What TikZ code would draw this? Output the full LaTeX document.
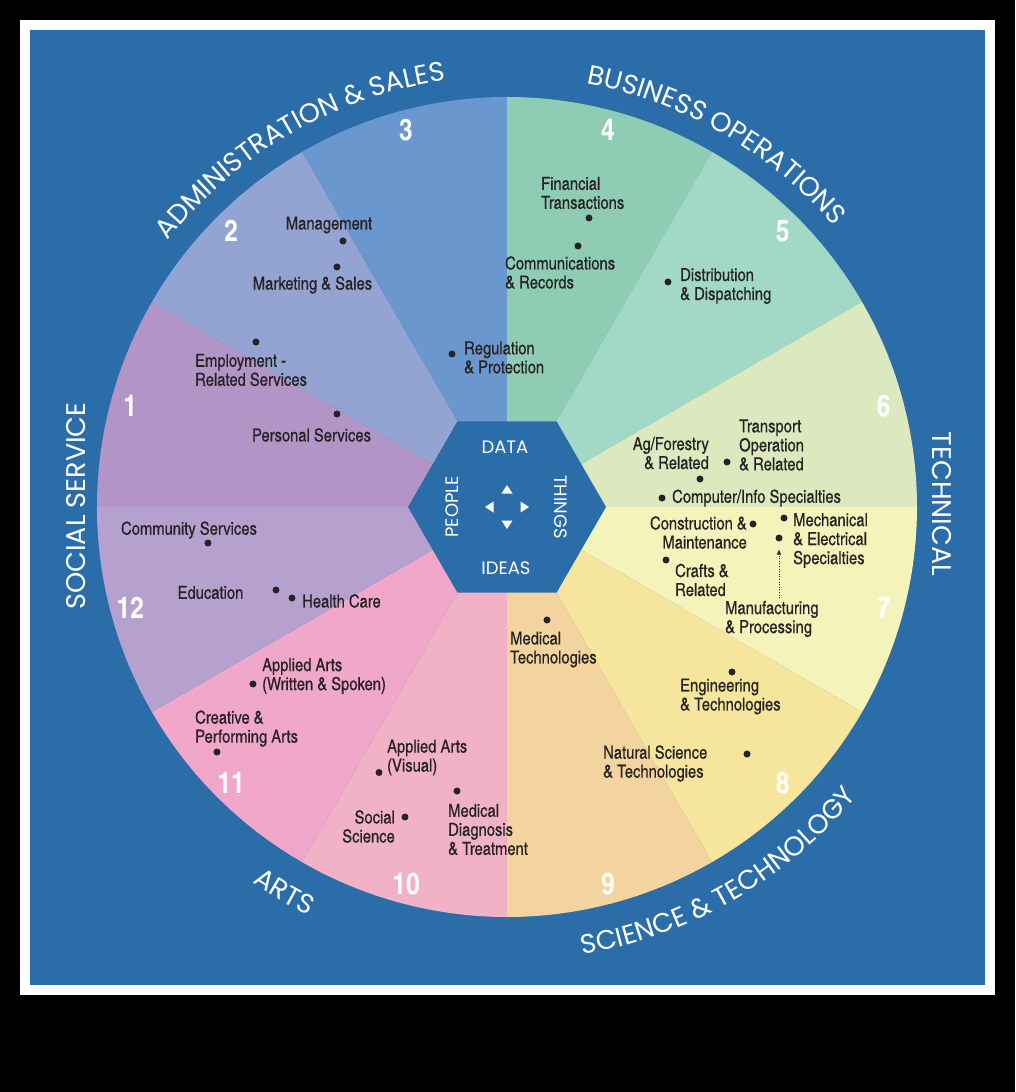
\documentclass[tikz,border=0pt]{standalone}
\usepackage{fontspec}
\usepackage{xcolor}
\usetikzlibrary{shapes.geometric,decorations.text,arrows.meta}

\newfontfamily\itemfont{TeX Gyre Heros Cn}[FakeBold=0.5]
\newfontfamily\ringfont{Poppins}
\newfontfamily\numfont{TeX Gyre Heros Cn}

\definecolor{bgblue}{HTML}{2A6DA9}
\definecolor{ink}{HTML}{262324}
\definecolor{secA}{HTML}{B394C6}
\definecolor{secB}{HTML}{93A4D2}
\definecolor{secC}{HTML}{6A97CD}
\definecolor{secD}{HTML}{8FCCB4}
\definecolor{secE}{HTML}{A2D8C6}
\definecolor{secF}{HTML}{DCE8BE}
\definecolor{secG}{HTML}{F3F3BA}
\definecolor{secH}{HTML}{F6E59C}
\definecolor{secI}{HTML}{F4D49E}
\definecolor{secJ}{HTML}{F2B2C6}
\definecolor{secK}{HTML}{F0A7CA}
\definecolor{secL}{HTML}{B6A1CE}

\begin{document}
\begin{tikzpicture}[
    x=1pt, y=1pt,
    item/.style={font=\itemfont\fontsize{18}{19}\selectfont, text=ink, inner sep=0, align=left},
    dot/.style={circle, fill=ink, inner sep=0, minimum size=7},
    num/.style={font=\numfont\bfseries\fontsize{30}{30}\selectfont, text=white},
    ring/.style={font=\ringfont\fontsize{27}{27}\selectfont, text=white, inner sep=0},
    hexword/.style={font=\ringfont\fontsize{18}{18}\selectfont, text=white, inner sep=0},
    hexa/.style={regular polygon, regular polygon sides=6, minimum size=198, inner sep=0, fill=bgblue}
]
    % frame
    \fill[black] (-507,-585) rectangle (508,507);
    \fill[white] (-487,-488) rectangle (488,487);
    \fill[bgblue] (-477,-478) rectangle (478,477);

    % twelve sectors with their numbers
    \foreach \k/\col in {1/secA,2/secB,3/secC,4/secD,5/secE,6/secF,7/secG,8/secH,9/secI,10/secJ,11/secK,12/secL} {
        \fill[\col] (0,0) -- (180-30*\k:410) arc[start angle=180-30*\k, end angle=210-30*\k, radius=410] -- cycle;
        \node[num] (n\k) at (195-30*\k:390) {\k};
    }

    % centre hexagon
    \node[hexa] (hex) at (0,0) {};
    \node[hexword] (data) at (-2,59.5) {DATA};
    \node[hexword] (ideas) at (-1,-61) {IDEAS};
    \node[hexword, rotate=90] (people) at (-55,0) {PEOPLE};
    \node[hexword, rotate=-90] (things) at (54,0) {THINGS};
    \foreach \a in {0,90,180,270}
        \fill[white, rotate=\a] (13.5,-5.5) -- (13.5,5.5) -- (22,0) -- cycle;

    % ring titles
    \path[decorate, decoration={text along path, text align=center, text color=white,
        text={|\ringfont\fontsize{27}{27}\selectfont|ADMINISTRATION {\&} SALES}}]
        (150:431) arc[start angle=150, end angle=90, radius=431];
    \path[decorate, decoration={text along path, text align=center, text color=white,
        text={|\ringfont\fontsize{27}{27}\selectfont|BUSINESS OPERATIONS}}]
        (90:431) arc[start angle=90, end angle=30, radius=431];
    \path[decorate, decoration={text along path, text align=center, text color=white,
        text={|\ringfont\fontsize{27}{27}\selectfont|SCIENCE {\&} TECHNOLOGY}}]
        (-90:454) arc[start angle=-90, end angle=-30, radius=454];
    \path[decorate, decoration={text along path, text align=center, text color=white,
        text={|\ringfont\fontsize{27}{27}\selectfont|ARTS}}]
        (-150:454) arc[start angle=-150, end angle=-90, radius=454];
    \node[ring, rotate=90] (social) at (-431,1) {SOCIAL SERVICE};
    \node[ring, rotate=-90] (technical) at (434.5,3) {TECHNICAL};

    % sector 2
    \node[item] (t-mgmt) at (-178,282) {Management};
    \node[dot] (d-mgmt) at (-164,266) {};
    \node[dot] (d-mkt) at (-170,240) {};
    \node[item] (t-mkt) at (-194.5,222) {Marketing \& Sales};
    % sector 1
    \node[dot] (d-emp) at (-251,165) {};
    \node[item, anchor=west] (t-emp) at (-312,137) {Employment -\\Related Services};
    \node[dot] (d-pers) at (-170,93) {};
    \node[item] (t-pers) at (-195.5,72) {Personal Services};
    % sector 3
    \node[dot] (d-reg) at (-55,153) {};
    \node[item, anchor=west] (t-reg) at (-43,149.5) {Regulation\\\& Protection};
    % sector 4
    \node[item, anchor=west] (t-fin) at (34,314) {Financial\\Transactions};
    \node[dot] (d-fin) at (82,289) {};
    \node[dot] (d-comm) at (71,261) {};
    \node[item, anchor=west] (t-comm) at (-2,234.5) {Communications\\\& Records};
    % sector 5
    \node[dot] (d-dist) at (161,225) {};
    \node[item, anchor=west] (t-dist) at (173,221) {Distribution\\\& Dispatching};
    % sector 6
    \node[item, anchor=east, align=right] (t-ag) at (202,54) {Ag/Forestry\\\& Related};
    \node[dot] (d-ag) at (193,28) {};
    \node[dot] (d-trans) at (220,45) {};
    \node[item, anchor=west] (t-trans) at (232,62) {Transport\\Operation\\\& Related};
    \node[dot] (d-comp) at (155,9) {};
    \node[item, anchor=west] (t-comp) at (165,9) {Computer/Info Specialties};
    % sector 7
    \node[item, anchor=east, align=right] (t-cons) at (240,-25.5) {Construction \&\\Maintenance};
    \node[dot] (d-cons) at (246,-17) {};
    \node[dot] (d-mech) at (277,-11) {};
    \node[item, anchor=west] (t-mech) at (286,-33.5) {Mechanical\\\& Electrical\\Specialties};
    \node[dot] (d-manu) at (272,-31) {};
    \node[dot] (d-crafts) at (159,-53) {};
    \node[item, anchor=west] (t-crafts) at (168,-73) {Crafts \&\\Related};
    \node[item, anchor=west] (t-manu) at (218,-112) {Manufacturing\\\& Processing};
    \draw[ink, dotted, semithick, -{Triangle[length=5, width=4]}, shorten <=3, shorten >=8]
        (t-manu.north -| d-manu) -- (d-manu);
    % sector 9
    \node[dot] (d-medtech) at (40,-113) {};
    \node[item, anchor=west] (t-medtech) at (3,-142.5) {Medical\\Technologies};
    % sector 8
    \node[dot] (d-eng) at (225,-165) {};
    \node[item, anchor=west] (t-eng) at (173,-189.5) {Engineering\\\& Technologies};
    \node[item, anchor=west] (t-nat) at (96,-256.5) {Natural Science\\\& Technologies};
    \node[dot] (d-nat) at (240,-247) {};
    % sector 12
    \node[item] (t-commserv) at (-318,-23) {Community Services};
    \node[dot] (d-commserv) at (-299,-36) {};
    \node[item] (t-edu) at (-296.5,-85.5) {Education};
    \node[dot] (d-edu) at (-231,-83) {};
    \node[dot] (d-health) at (-215,-91) {};
    \node[item, anchor=west] (t-health) at (-205,-94) {Health Care};
    % sector 11
    \node[item, anchor=west] (t-appw) at (-245,-169) {Applied Arts\\(Written \& Spoken)};
    \node[dot] (d-appw) at (-254,-177) {};
    \node[item, anchor=west] (t-creat) at (-312,-221.5) {Creative \&\\Performing Arts};
    \node[dot] (d-creat) at (-290,-245) {};
    % sector 10
    \node[item, anchor=west] (t-appv) at (-120,-250.5) {Applied Arts\\(Visual)};
    \node[dot] (d-appv) at (-128,-265.5) {};
    \node[item, anchor=east, align=right] (t-social) at (-112,-319.5) {Social\\Science};
    \node[dot] (d-social) at (-102,-310) {};
    \node[dot] (d-meddiag) at (-50,-284) {};
    \node[item, anchor=west] (t-meddiag) at (-59,-322.5) {Medical\\Diagnosis\\\& Treatment};
\end{tikzpicture}
\end{document}
